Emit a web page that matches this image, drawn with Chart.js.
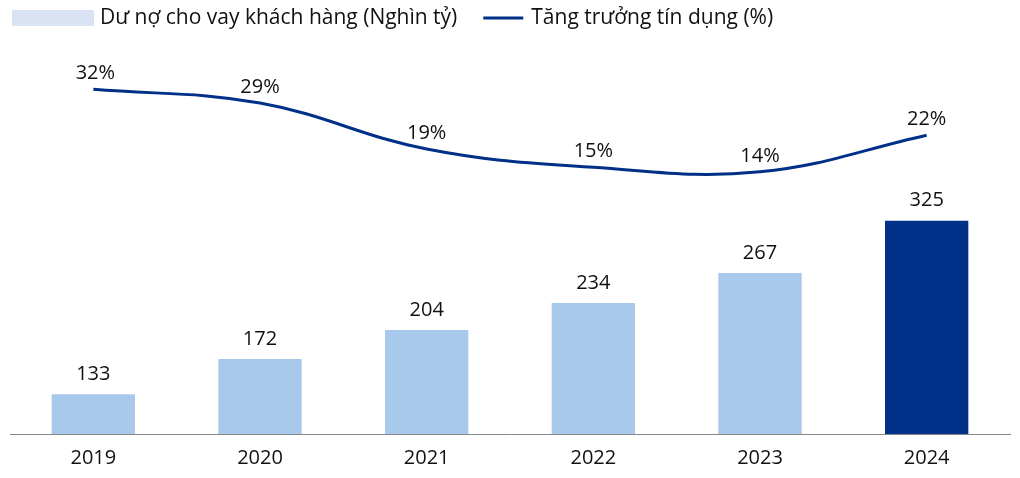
<!DOCTYPE html><html><head><meta charset="utf-8">
<script src="https://cdn.jsdelivr.net/npm/chart.js@4/dist/chart.umd.min.js"></script>
<style>html,body{margin:0;background:#fff}#w{width:1020px;height:478px}</style></head><body>
<div id="w"><canvas id="c"></canvas></div>
<script>
const categories=["2019","2020","2021","2022","2023","2024"];
const loans=[133,172,204,234,267,325];
const growth=[32,29,19,15,14,22];
const legendTexts=['Dư nợ cho vay khách hàng (Nghìn tỷ)','Tăng trưởng tín dụng (%)'];
const F="'Open Sans','Noto Sans',sans-serif";
const labels={id:'lbl',afterDatasetsDraw(ch){const x=ch.ctx;x.save();x.font="20px "+F;x.fillStyle="#111";x.textAlign="center";x.textBaseline="bottom";
ch.getDatasetMeta(0).data.forEach((e,i)=>x.fillText(loans[i],e.x,e.y-10));
ch.getDatasetMeta(1).data.forEach((e,i)=>x.fillText(growth[i]+"%",e.x+(i==0?2:0),e.y-6));
// legend
x.font="21px "+F;x.textAlign="left";x.textBaseline="middle";
x.fillStyle='#dae3f3';x.fillRect(12,10,82,16);
x.fillStyle='#111';x.fillText(legendTexts[0],100,18);
const w=x.measureText(legendTexts[0]).width;const lx=100+w+26;
x.strokeStyle='#003087';x.lineWidth=3;x.beginPath();x.moveTo(lx,18);x.lineTo(lx+40,18);x.stroke();
x.fillText(legendTexts[1],lx+48,18);x.restore();}};
new Chart(document.getElementById('c'),{data:{labels:categories,datasets:[
{type:'bar',label:legendTexts[0],data:loans,yAxisID:'y',order:2,
 backgroundColor:loans.map((v,i)=>i==5?'#003087':'#a8c8ec'),barPercentage:0.5,categoryPercentage:1},
{type:'line',label:legendTexts[1],data:growth,yAxisID:'y1',order:1,borderColor:'#003087',borderWidth:3,pointRadius:0,tension:0.4}]},
options:{responsive:true,maintainAspectRatio:false,animation:false,layout:{padding:{left:10,right:10,top:38,bottom:4}},
plugins:{tooltip:{enabled:false},legend:{display:false}},
scales:{x:{grid:{display:false},border:{color:'#888'},ticks:{font:{size:20,family:F},color:'#111',padding:4}},
y:{display:false,min:89,max:527},y1:{display:false,min:-43.2,max:43.2}}},plugins:[labels]});
</script></body></html>
